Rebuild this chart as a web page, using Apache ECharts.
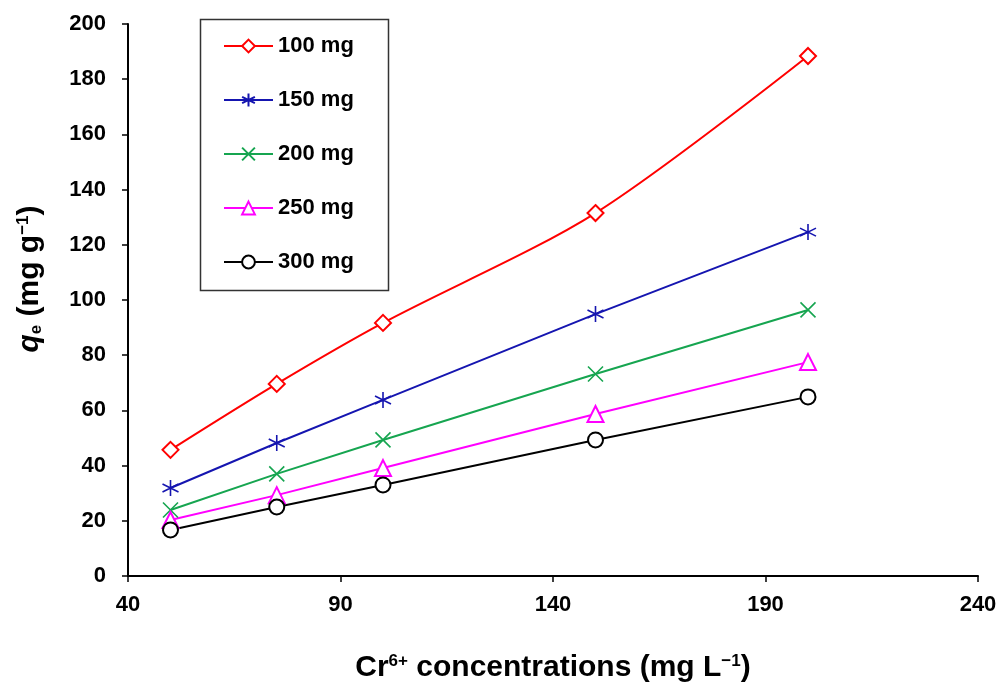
<!DOCTYPE html>
<html>
<head>
<meta charset="utf-8">
<script src="https://cdn.jsdelivr.net/npm/echarts@6/dist/echarts.min.js"></script>
<style>
  html, body { margin: 0; padding: 0; background: #fff; }
  #main { width: 1004px; height: 689px; }
</style>
</head>
<body>
<div id="main"></div>
<script>
// Cr6+ concentrations (mg/L)
var conc = [50, 75, 100, 150, 200];
// qe values per adsorbent dose
var dose100 = [45.7, 69.6, 91.7, 131.5, 188.4];
var dose150 = [31.9, 48.2, 63.8, 94.9, 124.6];
var dose200 = [23.9, 37.0, 49.3, 73.2, 96.4];
var dose250 = [20.3, 29.3, 39.1, 58.7, 77.5];
var dose300 = [16.7, 25.0, 33.0, 49.3, 64.9];
var seriesNames = ['100 mg', '150 mg', '200 mg', '250 mg', '300 mg'];

var FONT = 'Liberation Sans, Arial, sans-serif';

function pairs(ys){
  var out = [];
  for (var i = 0; i < conc.length; i++) out.push([conc[i], ys[i]]);
  return out;
}

var asterisk = 'path://M0,-10L0,10M-8.7,-5L8.7,5M-8.7,5L8.7,-5';
var cross = 'path://M-8,-8L8,8M-8,8L8,-8';

function mkSeries(name, ys, color, symbol, size, smooth){
  return {
    name: name,
    type: 'line',
    data: pairs(ys),
    smooth: smooth,
    symbol: symbol,
    symbolSize: size,
    lineStyle: { color: color, width: 2 },
    itemStyle: { color: color, borderColor: color, borderWidth: 1.6 },
    z: 3
  };
}

var myChart = echarts.init(document.getElementById('main'));
var option = {
  animation: false,
  backgroundColor: '#fff',
  grid: { left: 128, right: 26, top: 24, bottom: 113 },
  legend: {
    orient: 'vertical',
    left: 218,
    top: 30,
    itemWidth: 49,
    itemHeight: 16,
    itemGap: 32,
    textStyle: { fontFamily: FONT, fontWeight: 'bold', fontSize: 22, color: '#000' },
    data: seriesNames
  },
  graphic: [{
    type: 'rect',
    left: 198, top: 17,
    shape: { width: 188, height: 271 },
    style: { fill: 'none', stroke: '#333', lineWidth: 1.5 },
    z: 10
  }],
  xAxis: {
    type: 'value',
    min: 40, max: 240, interval: 50,
    splitLine: { show: false },
    axisLine: { lineStyle: { color: '#000', width: 2 } },
    axisTick: { show: true, length: 6, lineStyle: { color: '#000', width: 1.5 } },
    axisLabel: { fontFamily: FONT, fontWeight: 'bold', fontSize: 22, color: '#000', margin: 18 },
    name: '{t|Cr}{s|6+}{t| concentrations (mg L}{s|\u22121}{t|)}',
    nameLocation: 'middle',
    nameGap: 77,
    nameTextStyle: {
      rich: {
        t: { fontFamily: FONT, fontWeight: 'bold', fontSize: 30, color: '#000', lineHeight: 30 },
        s: { fontFamily: FONT, fontWeight: 'bold', fontSize: 17, color: '#000', verticalAlign: 'top', lineHeight: 30 }
      }
    }
  },
  yAxis: {
    type: 'value',
    min: 0, max: 200, interval: 20,
    splitLine: { show: false },
    axisLine: { show: true, lineStyle: { color: '#000', width: 2 } },
    axisTick: { show: true, length: 6, lineStyle: { color: '#000', width: 1.5 } },
    axisLabel: { fontFamily: FONT, fontWeight: 'bold', fontSize: 22, color: '#000', margin: 22 },
    name: '{q|q}{e|e}{t| (mg g}{s|\u22121}{t|)}',
    nameLocation: 'middle',
    nameRotate: 90,
    nameGap: 83,
    nameTextStyle: {
      padding: [0, 0, 0, 42],
      rich: {
        q: { fontFamily: FONT, fontWeight: 'bold', fontStyle: 'italic', fontSize: 30, color: '#000', lineHeight: 30 },
        e: { fontFamily: FONT, fontWeight: 'bold', fontSize: 17, color: '#000', verticalAlign: 'bottom', lineHeight: 30 },
        t: { fontFamily: FONT, fontWeight: 'bold', fontSize: 30, color: '#000', lineHeight: 30 },
        s: { fontFamily: FONT, fontWeight: 'bold', fontSize: 17, color: '#000', verticalAlign: 'top', lineHeight: 30 }
      }
    }
  },
  series: [
    mkSeries('100 mg', dose100, '#ff0000', 'emptyDiamond', 16, 0.3),
    mkSeries('150 mg', dose150, '#1515b0', asterisk, 16, false),
    mkSeries('200 mg', dose200, '#16a550', cross, 15, false),
    mkSeries('250 mg', dose250, '#ff00ff', 'emptyTriangle', 16, false),
    mkSeries('300 mg', dose300, '#000000', 'emptyCircle', 15, false)
  ]
};
myChart.setOption(option);
</script>
</body>
</html>
